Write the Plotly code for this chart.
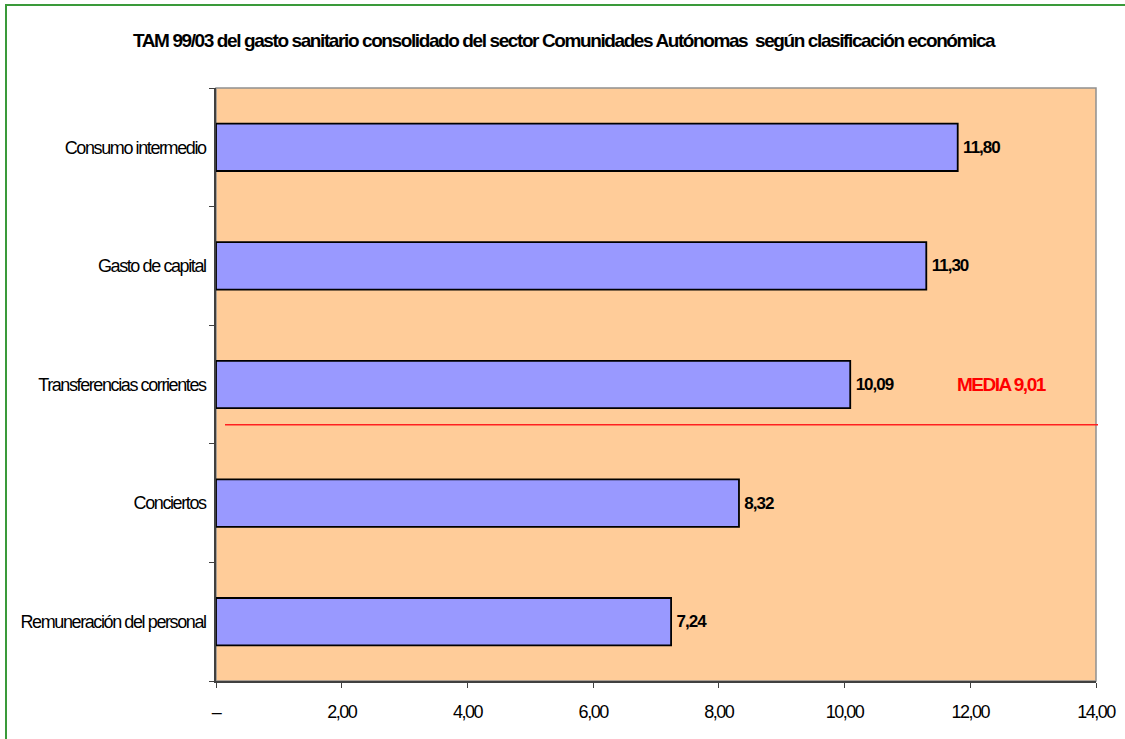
import plotly.graph_objects as go

categories = ["Remuneración del personal", "Conciertos", "Transferencias corrientes",
              "Gasto de capital", "Consumo intermedio"]
values = [7.24, 8.32, 10.09, 11.30, 11.80]
value_labels = ["7,24", "8,32", "10,09", "11,30", "11,80"]
x_tickvals = [0, 2, 4, 6, 8, 10, 12, 14]
x_ticktext = ["–", "2,00", "4,00", "6,00", "8,00", "10,00", "12,00", "14,00"]
media_value = 9.01
media_label = "MEDIA 9,01"
title_text = "TAM 99/03 del gasto sanitario consolidado del sector Comunidades Autónomas  según clasificación económica"

FONT = "Liberation Sans, Arial, sans-serif"


def tight(s, ls):
    return '<span style="letter-spacing:%spx">%s</span>' % (ls, s)


fig = go.Figure()
fig.add_trace(go.Bar(
    y=categories, x=values, orientation="h",
    marker=dict(color="#9999FF", line=dict(color="#000000", width=1.8)),
    width=0.4,
    text=["<b>" + tight("\u2009" + t, -1.0) + "</b>" for t in value_labels],
    textposition="outside",
    textfont=dict(family=FONT, size=17, color="#000000"),
    cliponaxis=False,
    hoverinfo="skip",
))

fig.update_layout(
    width=1125, height=739,
    margin=dict(l=216, r=29, t=88, b=58, autoexpand=False),
    paper_bgcolor="#FFFFFF",
    plot_bgcolor="#FFCC99",
    showlegend=False,
    title=dict(text="<b>" + tight(title_text, -1.4) + "</b>", x=0.501, xanchor="center",
               y=1 - 40 / 739, yanchor="middle", yref="container",
               font=dict(family=FONT, size=19, color="#000000")),
    font=dict(family=FONT, color="#000000"),
)

fig.update_xaxes(
    range=[0, 14], tickmode="array", tickvals=x_tickvals,
    ticktext=[tight(t, -1.5) for t in x_ticktext],
    showgrid=False, zeroline=False, automargin=False,
    showline=True, linecolor="#404040", linewidth=1.5,
    ticks="outside", ticklen=5, tickcolor="#404040", tickwidth=1,
    tickfont=dict(family=FONT, size=18, color="#000000"),
    ticklabelstandoff=9,
)
fig.update_yaxes(
    type="category", categoryorder="array", categoryarray=categories,
    range=[-0.5, 4.5], automargin=False,
    tickmode="array", tickvals=categories,
    ticktext=[tight(c, -1.4) for c in categories],
    showgrid=False, zeroline=False,
    showline=True, linecolor="#404040", linewidth=1.5,
    ticks="outside", ticklen=5, tickcolor="#404040", tickwidth=1,
    tickson="boundaries",
    tickfont=dict(family=FONT, size=18, color="#000000"),
    ticklabelstandoff=5,
)

# plot area frame (gray on top/right)
fig.add_shape(type="rect", xref="paper", yref="paper", x0=0, x1=1, y0=0, y1=1,
              line=dict(color="#909090", width=1.5), layer="below")
# media line
media_y = 1.66
fig.add_shape(type="line", xref="paper", yref="y", x0=(225 - 216) / 880, x1=(1098 - 216) / 880,
              y0=media_y, y1=media_y, line=dict(color="#FF2020", width=1.5))
fig.add_annotation(text="<b>" + tight(media_label, -1.5) + "</b>", xref="x", yref="y",
                   x=11.75, y=2, xanchor="left", yanchor="middle", showarrow=False,
                   font=dict(family=FONT, size=19, color="#FF0000"))
# outer green border (chart frame, cropped at right/bottom)
fig.add_shape(type="rect", xref="paper", yref="paper",
              x0=(6 - 216) / 880, x1=(1135 - 216) / 880,
              y0=(681 - 750) / 593, y1=(681 - 5) / 593,
              line=dict(color="#3A9A3A", width=2), layer="below")

fig.write_html("out.html", config={"displayModeBar": False},
               post_script="document.body.style.margin='0';")
